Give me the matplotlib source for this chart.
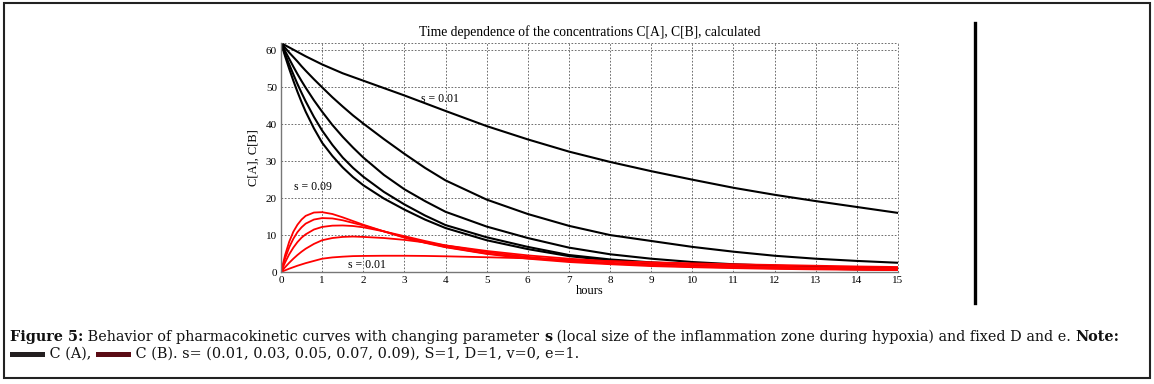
import matplotlib
matplotlib.use("Agg")
import matplotlib.pyplot as plt
from matplotlib.lines import Line2D
from matplotlib.patches import Rectangle

# ---------------- data ----------------
hours = [0, 0.1, 0.2, 0.3, 0.4, 0.5, 0.6, 0.8, 1.0, 1.25, 1.5, 1.75, 2, 2.5, 3, 3.5, 4,
         5, 6, 7, 8, 9, 10, 11, 12, 13, 14, 15]

# C[A] (black) for s = 0.01 ... 0.09
ca_s001 = [62, 61.4, 60.8, 60.2, 59.6, 59.0, 58.4, 57.3, 56.2, 55.0, 53.8, 52.8, 51.8, 49.8, 47.8, 45.7, 43.6,
           39.5, 35.9, 32.6, 29.8, 27.3, 25.0, 22.8, 20.9, 19.2, 17.6, 16.0]
ca_s003 = [62, 60.7, 59.4, 58.2, 57.0, 55.7, 54.5, 52.2, 50.0, 47.3, 44.8, 42.4, 40.2, 36.0, 32.0, 28.2, 24.8,
           19.6, 15.7, 12.5, 10.0, 8.4, 6.8, 5.5, 4.4, 3.6, 3.0, 2.5]
ca_s005 = [62, 59.8, 57.7, 55.6, 53.6, 51.7, 49.9, 46.5, 43.4, 39.8, 36.6, 33.7, 31.0, 26.3, 22.4, 19.2, 16.3,
           12.3, 9.2, 6.6, 4.8, 3.6, 2.7, 2.1, 1.7, 1.4, 1.2, 1.0]
ca_s007 = [62, 59.0, 56.2, 53.5, 50.9, 48.5, 46.2, 42.0, 38.3, 34.4, 31.0, 28.2, 25.8, 21.7, 18.3, 15.3, 12.7,
           9.4, 6.8, 4.6, 3.4, 2.6, 2.0, 1.6, 1.3, 1.1, 0.95, 0.8]
ca_s009 = [62, 58.4, 55.0, 51.8, 48.8, 46.0, 43.4, 38.9, 35.0, 31.4, 28.3, 25.7, 23.5, 19.9, 16.9, 14.2, 11.9,
           8.6, 6.2, 4.3, 3.1, 2.3, 1.75, 1.4, 1.1, 0.9, 0.75, 0.65]

# C[B] (red) for s = 0.01 ... 0.09
cb_s001 = [0, 0.45, 0.9, 1.3, 1.7, 2.05, 2.4, 3.0, 3.6, 3.95, 4.15, 4.3, 4.35, 4.4, 4.4, 4.35, 4.25,
           4.0, 3.7, 3.3, 2.95, 2.65, 2.35, 2.1, 1.9, 1.7, 1.5, 1.35]
cb_s003 = [0, 1.3, 2.5, 3.6, 4.6, 5.5, 6.3, 7.6, 8.6, 9.2, 9.5, 9.6, 9.5, 9.2, 8.7, 8.0, 7.2,
           5.7, 4.5, 3.6, 2.9, 2.4, 2.0, 1.7, 1.45, 1.25, 1.1, 1.0]
cb_s005 = [0, 2.6, 4.8, 6.6, 8.1, 9.3, 10.2, 11.5, 12.2, 12.55, 12.6, 12.45, 12.1, 11.0, 9.7, 8.4, 7.2,
           5.4, 4.1, 3.1, 2.5, 2.0, 1.6, 1.35, 1.15, 0.98, 0.85, 0.75]
cb_s007 = [0, 3.7, 6.7, 9.0, 10.8, 12.1, 13.1, 14.2, 14.6, 14.5, 14.0, 13.3, 12.6, 11.0, 9.4, 8.0, 6.8,
           5.0, 3.8, 2.9, 2.3, 1.8, 1.45, 1.2, 1.0, 0.85, 0.72, 0.62]
cb_s009 = [0, 4.6, 8.2, 10.9, 12.8, 14.2, 15.2, 16.1, 16.2, 15.7, 14.8, 13.8, 12.8, 11.0, 9.3, 7.9, 6.7,
           4.9, 3.6, 2.7, 2.1, 1.6, 1.3, 1.05, 0.85, 0.7, 0.6, 0.5]

x_ticks = list(range(0, 16))
y_ticks = [0, 10, 20, 30, 40, 50, 60]

title = "Time dependence of the concentrations C[A], C[B], calculated"
x_label = "hours"
y_label = "C[A], C[B]"

# ---------------- figure ----------------
W, H = 1154, 384
fig = plt.figure(figsize=(W / 100, H / 100), dpi=100)
serif = ["Liberation Serif", "DejaVu Serif"]
plt.rcParams["font.family"] = serif

ax = fig.add_axes([281 / W, 1 - 272 / H, (898 - 281) / W, (272 - 43) / H])

for ca in [ca_s001, ca_s003, ca_s005, ca_s007, ca_s009]:
    ax.plot(hours, ca, color="black", lw=1.5)
for cb in [cb_s001, cb_s003, cb_s005, cb_s007, cb_s009]:
    ax.plot(hours, cb, color="#ff0000", lw=1.3)

grid_style = dict(color="#555555", linestyle=(0, (2, 2)), linewidth=0.6)
ax.set_xlim(0, 15)
ax.set_ylim(0, 62)
ax.set_xticks(x_ticks)
ax.set_yticks(y_ticks)
ax.tick_params(length=0, labelsize=8, pad=3)
ax.grid(True, **grid_style)
ax.axhline(62, clip_on=False, **grid_style)
ax.axvline(15, clip_on=False, **grid_style)
for side in ["top", "right"]:
    ax.spines[side].set_visible(False)
for side in ["left", "bottom"]:
    ax.spines[side].set_color("#777777")
    ax.spines[side].set_linewidth(1.0)

ax.set_title(title, fontsize=9.8, pad=5)
ax.set_xlabel(x_label, fontsize=9, labelpad=0)
ax.set_ylabel(y_label, fontsize=9, labelpad=4)

ax.text(3.87, 46.8, "s = 0.01", fontsize=8.5, ha="center", va="center")
ax.text(0.77, 23.0, "s = 0.09", fontsize=8.5, ha="center", va="center")
ax.text(2.1, 1.9, "s = 0.01", fontsize=8.5, ha="center", va="center")

# vertical bar on the right
fig.add_artist(Line2D([975 / W, 975 / W], [1 - 23 / H, 1 - 303 / H], color="black", lw=2.4,
                      transform=fig.transFigure))
# outer frame
fig.add_artist(Rectangle((4 / W, 1 - 378 / H), (1150 - 4) / W, (378 - 3) / H, fill=False,
                         edgecolor="#222222", lw=1.5, transform=fig.transFigure))

# ---------------- caption ----------------
renderer = fig.canvas.get_renderer()
cap_family = ["DejaVu Serif"]

line1 = [
    ("text", "Figure 5:", True),
    ("text", " Behavior of pharmacokinetic curves with changing parameter ", False),
    ("text", "s", True),
    ("text", " (local size of the inflammation zone during hypoxia) and fixed D and e. ", False),
    ("text", "Note:", True),
]
line2 = [
    ("patch", "#231f20", False),
    ("text", " C (A), ", False),
    ("patch", "#5a0b14", False),
    ("text", " C (B). s= (0.01, 0.03, 0.05, 0.07, 0.09), S=1, D=1, v=0, e=1.", False),
]


def write_pieces(x_px, y_px, pieces, size, draw=True):
    x = x_px
    for kind, content, bold in pieces:
        if kind == "patch":
            if draw:
                fig.add_artist(Rectangle((x / W, 1 - (y_px + 3) / H), 35 / W, 5 / H,
                                         color=content, lw=0, transform=fig.transFigure))
            x += 35
        else:
            t = fig.text(x / W, 1 - y_px / H, content, fontsize=size, family=cap_family,
                         fontweight="bold" if bold else "normal", va="center", ha="left",
                         color="#111111")
            x += t.get_window_extent(renderer).width
            if not draw:
                t.remove()
    return x


# fit caption line 1 to the width it has in the reference
trial = 10.0
end = write_pieces(10, 337, line1, trial, draw=False)
cap_size = trial * (1128 - 10) / (end - 10)

write_pieces(10, 337, line1, cap_size)
write_pieces(10, 354, line2, cap_size)

fig.savefig("out.png", dpi=100)
